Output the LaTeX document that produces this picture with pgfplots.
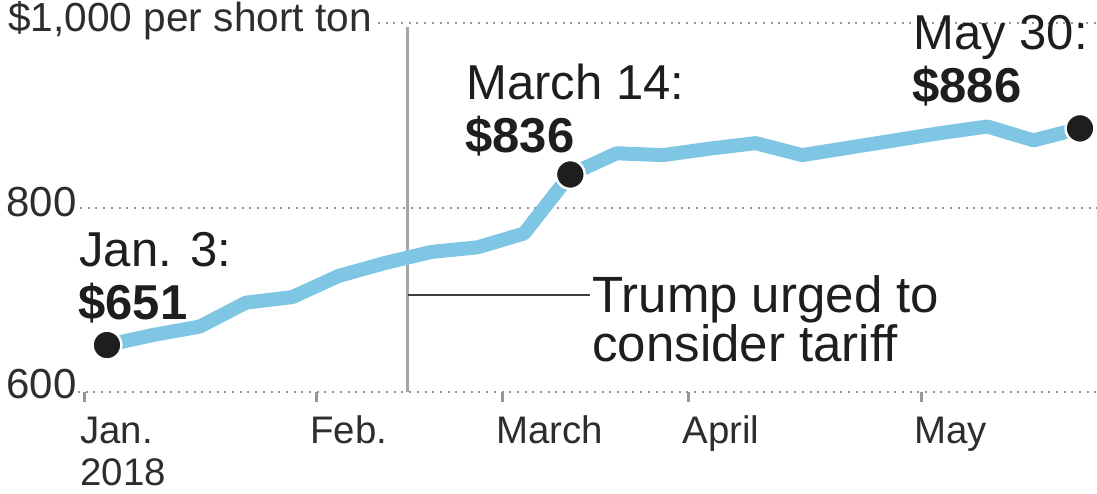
\documentclass[border=0pt]{standalone}
\usepackage{pgfplots}
\pgfplotsset{compat=1.18}
\usepackage{fontspec}
\setmainfont{Liberation Sans}
\definecolor{lineblue}{RGB}{126,198,227}
\definecolor{txt}{RGB}{30,30,30}
\definecolor{ticktxt}{RGB}{45,45,45}
\definecolor{gridc}{RGB}{150,150,150}
\definecolor{vline}{RGB}{165,165,165}
\begin{document}
\begin{tikzpicture}
\useasboundingbox (0,0) rectangle (548.5pt,246.5pt);
\begin{axis}[
  at={(0,0)}, anchor=south west,
  width=548.5pt, height=246.5pt, scale only axis,
  xmin=-13.166, xmax=152.57, ymin=490.54, ymax=1026.41,
  hide axis, clip=false,
]
% dotted gridlines
\draw[gridc, line width=1pt, dash pattern=on 1pt off 2.85pt] (axis cs:43.94,1000) -- (axis cs:152.57,1000);
\draw[gridc, line width=1pt, dash pattern=on 1pt off 2.85pt] (axis cs:-1.08,800) -- (axis cs:152.57,800);
\draw[gridc, line width=1pt, dash pattern=on 1pt off 2.85pt] (axis cs:-1.38,600) -- (axis cs:152.57,600);
% x ticks
\draw[gridc, line width=1.5pt] (axis cs:-0.475,600) -- (axis cs:-0.475,589.5);
\draw[gridc, line width=1.5pt] (axis cs:34.68,600) -- (axis cs:34.68,589.5);
\draw[gridc, line width=1.5pt] (axis cs:62.78,600) -- (axis cs:62.78,589.5);
\draw[gridc, line width=1.5pt] (axis cs:90.84,600) -- (axis cs:90.84,589.5);
\draw[gridc, line width=1.5pt] (axis cs:126.04,600) -- (axis cs:126.04,589.5);
% event line and leader
\draw[vline, line width=1.5pt] (axis cs:48.43,996) -- (axis cs:48.43,600);
\draw[txt!85, line width=1pt] (axis cs:48.43,705.8) -- (axis cs:75.97,705.8);
% price series (weekly, day of year 2018)
\addplot[lineblue, line width=7pt, line join=round, mark=*, mark indices={1,11,22}, mark size=7.2pt,
  mark options={fill=txt, draw=white, line width=1.2pt, solid}] coordinates {
(3,651) (10,662) (17,671) (24,697) (31,703) (38,726) (45,740) (52,752) (59,757) (66,772)
(73,836) (80,859) (87,857) (94,864) (101,870) (108,857) (115,865) (122,873) (129,881)
(136,888) (143,873) (150,886)
};
\end{axis}
\begin{scope}[yshift=246.5pt, x=0.5pt, y=-0.5pt]
\begin{scope}[every node/.style={inner sep=0pt, anchor=base west, text=ticktxt}]
\node[font=\fontsize{20.3pt}{22pt}\selectfont] at (8,32) {\$1,000 per short ton};
\node[font=\fontsize{21pt}{22pt}\selectfont] at (6,217) {800};
\node[font=\fontsize{21pt}{22pt}\selectfont] at (6,398) {600};
\node[font=\fontsize{19.2pt}{20pt}\selectfont] at (80,443) {Jan.};
\node[font=\fontsize{19.2pt}{20pt}\selectfont] at (80,485) {2018};
\node[font=\fontsize{19.2pt}{20pt}\selectfont] at (310,443) {Feb.};
\node[font=\fontsize{19.2pt}{20pt}\selectfont] at (496,443) {March};
\node[font=\fontsize{19.2pt}{20pt}\selectfont] at (682,443) {April};
\node[font=\fontsize{19.2pt}{20pt}\selectfont] at (914,443) {May};
\end{scope}
\begin{scope}[every node/.style={inner sep=0pt, anchor=base west, text=txt}]
\node[font=\fontsize{24.5pt}{26pt}\selectfont] at (79,267) {Jan. 3:};
\node[font=\fontsize{24.5pt}{26pt}\selectfont\bfseries] at (78,320) {\$651};
\node[font=\fontsize{24.5pt}{26pt}\selectfont] at (466,100) {March 14:};
\node[font=\fontsize{24.5pt}{26pt}\selectfont\bfseries] at (465,153) {\$836};
\node[font=\fontsize{24.5pt}{26pt}\selectfont] at (913,50) {May 30:};
\node[font=\fontsize{24.5pt}{26pt}\selectfont\bfseries] at (912,103) {\$886};
\node[font=\fontsize{25.5pt}{27pt}\selectfont] at (592,312) {Trump urged to};
\node[font=\fontsize{25.5pt}{27pt}\selectfont] at (592,361) {consider tariff};
\end{scope}
\end{scope}
\end{tikzpicture}
\end{document}
